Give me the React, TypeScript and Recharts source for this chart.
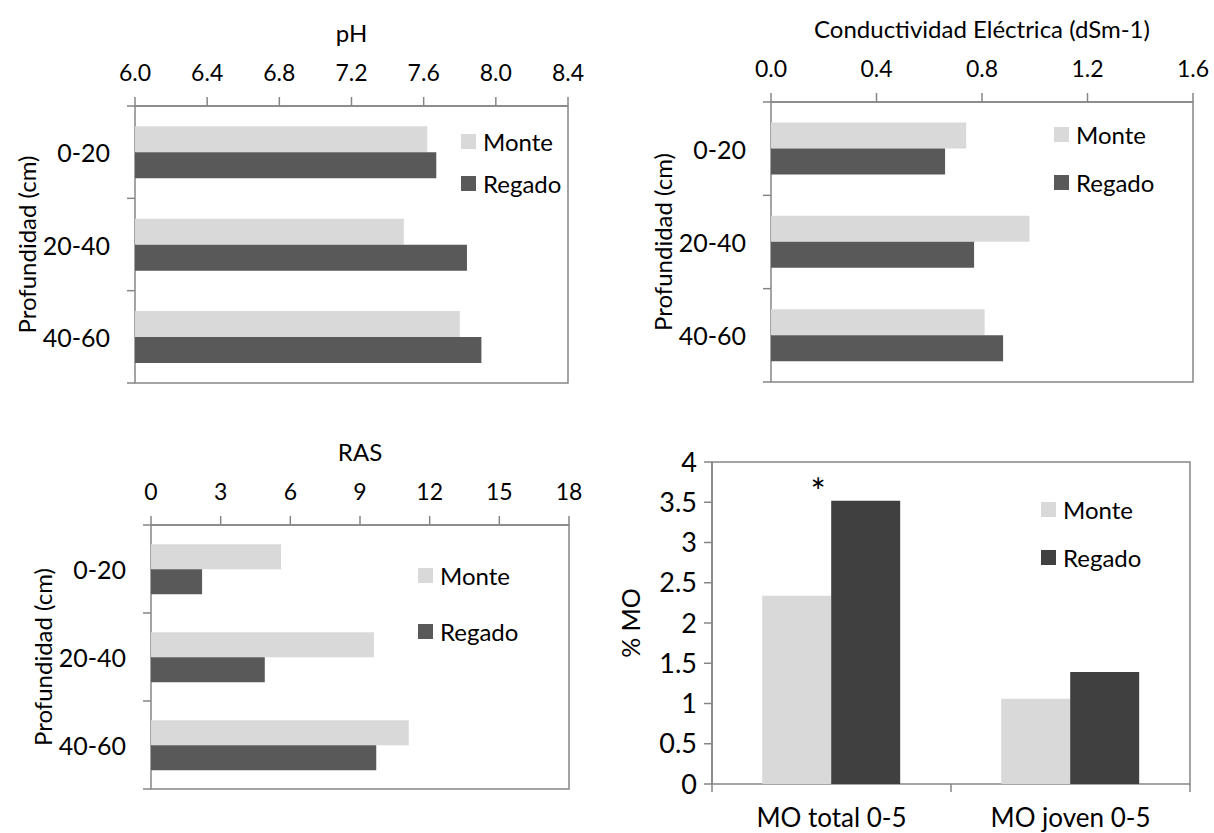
import {
  BarChart,
  Bar,
  XAxis,
  YAxis,
  Legend,
  ReferenceArea,
  LabelList,
  Label,
} from "recharts";

const depths = ["0-20", "20-40", "40-60"];

const phMonte = [7.62, 7.49, 7.8];
const phRegado = [7.67, 7.84, 7.92];
const phTicks = [6.0, 6.4, 6.8, 7.2, 7.6, 8.0, 8.4];

const ceMonte = [0.74, 0.98, 0.81];
const ceRegado = [0.66, 0.77, 0.88];
const ceTicks = [0, 0.4, 0.8, 1.2, 1.6];

const rasMonte = [5.6, 9.6, 11.1];
const rasRegado = [2.2, 4.9, 9.7];
const rasTicks = [0, 3, 6, 9, 12, 15, 18];

const moCats = ["MO total 0-5", "MO joven 0-5"];
const moMonte = [2.34, 1.06];
const moRegado = [3.52, 1.39];
const moSig = ["*", ""];
const moTicks = [0, 0.5, 1, 1.5, 2, 2.5, 3, 3.5, 4];

const AXIS = "#868686";
const MONTE = "#d9d9d9";
const REGADO = "#595959";
const REGADO_MO = "#404040";

function LegendBox({ payload, rowH }: any) {
  return (
    <div>
      {(payload || []).map((p: any) => (
        <div
          key={p.value}
          style={{ display: "flex", alignItems: "center", height: rowH, fontSize: 24, color: "#000" }}
        >
          <span style={{ width: 15, height: 15, background: p.color, marginRight: 7, display: "inline-block" }} />
          <span>{p.value}</span>
        </div>
      ))}
    </div>
  );
}

const topTitle = (text: string) => (props: any) => {
  const vb = props.viewBox;
  return (
    <text x={vb.x + vb.width / 2} y={vb.y - 24} textAnchor="middle" fontSize={24} fill="#000">
      {text}
    </text>
  );
};

const sideTitle = (text: string, dist: number, size: number) => (props: any) => {
  const vb = props.viewBox;
  const x = vb.x + vb.width - dist;
  const y = vb.y + vb.height / 2;
  return (
    <text
      x={x}
      y={y}
      transform={`rotate(-90, ${x}, ${y})`}
      textAnchor="middle"
      dominantBaseline="central"
      fontSize={size}
      fill="#000"
    >
      {text}
    </text>
  );
};

// category label on the left, plus tick marks at the band edges (Excel style)
const CAT_MARGIN = 25;
function DepthTick(props: any) {
  const { x, y, payload, index } = props;
  const axisX = x + CAT_MARGIN;
  const half = payload.offset || 0;
  const c = payload.coordinate;
  return (
    <g>
      <line x1={axisX - 8} x2={axisX} y1={c - half} y2={c - half} stroke={AXIS} strokeWidth={1.5} />
      {index === depths.length - 1 && (
        <line x1={axisX - 8} x2={axisX} y1={c + half} y2={c + half} stroke={AXIS} strokeWidth={1.5} />
      )}
      <text x={x} y={y} textAnchor="end" dominantBaseline="central" fontSize={25} fill="#000">
        {payload.value}
      </text>
    </g>
  );
}

const MO_MARGIN = 23;
function MoTick(props: any) {
  const { x, y, payload, index } = props;
  const axisY = y - MO_MARGIN;
  const half = payload.offset || 0;
  const c = payload.coordinate;
  return (
    <g>
      <line x1={c - half} x2={c - half} y1={axisY} y2={axisY + 8} stroke={AXIS} strokeWidth={1.5} />
      {index === moCats.length - 1 && (
        <line x1={c + half} x2={c + half} y1={axisY} y2={axisY + 8} stroke={AXIS} strokeWidth={1.5} />
      )}
      <text x={x} y={y} textAnchor="middle" dy="0.75em" fontSize={26} fill="#000">
        {payload.value}
      </text>
    </g>
  );
}

interface DepthPanelProps {
  left: number;
  top: number;
  width: number;
  height: number;
  margin: { top: number; right: number; bottom: number; left: number };
  catWidth: number;
  title: string;
  ticks: number[];
  digits: number;
  monte: number[];
  regado: number[];
  legendLeft: number;
  legendTop: number;
  rowH: number;
}

function DepthPanel(p: DepthPanelProps) {
  const data = depths.map((d, i) => ({ depth: d, monte: p.monte[i], regado: p.regado[i] }));
  const lo = p.ticks[0];
  const hi = p.ticks[p.ticks.length - 1];
  return (
    <div style={{ position: "absolute", left: p.left, top: p.top }}>
      <BarChart
        width={p.width}
        height={p.height}
        data={data}
        layout="vertical"
        margin={p.margin}
        barGap={0}
        barCategoryGap="22%"
      >
        <XAxis
          type="number"
          orientation="top"
          domain={[lo, hi]}
          ticks={p.ticks}
          interval={0}
          height={40}
          tickSize={9}
          tickMargin={16}
          tickFormatter={(v: number) => v.toFixed(p.digits)}
          tick={{ fill: "#000", fontSize: 23 }}
          axisLine={{ stroke: AXIS, strokeWidth: 1.5 }}
          tickLine={{ stroke: AXIS, strokeWidth: 1.5 }}
        >
          <Label content={topTitle(p.title)} />
        </XAxis>
        <YAxis
          type="category"
          dataKey="depth"
          width={p.catWidth}
          tickSize={0}
          tickMargin={CAT_MARGIN}
          tickLine={false}
          axisLine={false}
          tick={<DepthTick />}
        >
          <Label content={sideTitle("Profundidad (cm)", 109, 24)} />
        </YAxis>
        <ReferenceArea x1={lo} x2={hi} fill="none" stroke={AXIS} strokeWidth={1.5} ifOverflow="visible" />
        <Bar dataKey="monte" name="Monte" fill={MONTE} isAnimationActive={false} />
        <Bar dataKey="regado" name="Regado" fill={REGADO} isAnimationActive={false} />
        <Legend
          layout="vertical"
          align="center"
          verticalAlign="middle"
          wrapperStyle={{ left: p.legendLeft, top: p.legendTop, width: "auto" }}
          content={(props: any) => <LegendBox payload={props.payload} rowH={p.rowH} />}
        />
      </BarChart>
    </div>
  );
}

function MoPanel() {
  const data = moCats.map((c, i) => ({ cat: c, monte: moMonte[i], regado: moRegado[i], sig: moSig[i] }));
  return (
    <div style={{ position: "absolute", left: 600, top: 420 }}>
      <BarChart
        width={614}
        height={413}
        data={data}
        margin={{ top: 42, right: 24, bottom: 0, left: 0 }}
        barGap={0}
        barCategoryGap="21%"
      >
        <XAxis
          dataKey="cat"
          height={49}
          tickSize={0}
          tickMargin={MO_MARGIN}
          tickLine={false}
          axisLine={false}
          tick={<MoTick />}
        />
        <YAxis
          type="number"
          domain={[0, 4]}
          ticks={moTicks}
          interval={0}
          width={112}
          tickSize={8}
          tickMargin={7}
          tick={{ fill: "#000", fontSize: 27 }}
          axisLine={{ stroke: AXIS, strokeWidth: 1.5 }}
          tickLine={{ stroke: AXIS, strokeWidth: 1.5 }}
        >
          <Label content={sideTitle("% MO", 82, 25)} />
        </YAxis>
        <ReferenceArea y1={0} y2={4} fill="none" stroke={AXIS} strokeWidth={1.5} ifOverflow="visible" />
        <Bar dataKey="monte" name="Monte" fill={MONTE} isAnimationActive={false} />
        <Bar dataKey="regado" name="Regado" fill={REGADO_MO} isAnimationActive={false}>
          <LabelList
            dataKey="sig"
            content={(props: any) =>
              props.value ? (
                <text x={props.x - 13} y={props.y + 4} textAnchor="middle" fontSize={36} fill="#000">
                  {props.value}
                </text>
              ) : null
            }
          />
        </Bar>
        <Legend
          layout="vertical"
          align="center"
          verticalAlign="middle"
          wrapperStyle={{ left: 441, top: 65, width: "auto" }}
          content={(props: any) => <LegendBox payload={props.payload} rowH={48} />}
        />
      </BarChart>
    </div>
  );
}

export default function App() {
  return (
    <div
      style={{
        position: "absolute",
        left: 0,
        top: 0,
        width: 1214,
        height: 833,
        background: "#fff",
        fontFamily: "Lato, 'Open Sans', sans-serif",
      }}
    >
      <DepthPanel
        left={0}
        top={0}
        width={600}
        height={420}
        margin={{ top: 66, right: 32, bottom: 37, left: 0 }}
        catWidth={135}
        title="pH"
        ticks={phTicks}
        digits={1}
        monte={phMonte}
        regado={phRegado}
        legendLeft={461}
        legendTop={120}
        rowH={42}
      />
      <DepthPanel
        left={600}
        top={0}
        width={614}
        height={420}
        margin={{ top: 62, right: 21, bottom: 38, left: 0 }}
        catWidth={171}
        title="Conductividad Eléctrica (dSm-1)"
        ticks={ceTicks}
        digits={1}
        monte={ceMonte}
        regado={ceRegado}
        legendLeft={454}
        legendTop={110}
        rowH={48}
      />
      <DepthPanel
        left={0}
        top={420}
        width={600}
        height={413}
        margin={{ top: 65, right: 31, bottom: 44, left: 0 }}
        catWidth={151}
        title="RAS"
        ticks={rasTicks}
        digits={0}
        monte={rasMonte}
        regado={rasRegado}
        legendLeft={418}
        legendTop={127}
        rowH={56}
      />
      <MoPanel />
    </div>
  );
}
